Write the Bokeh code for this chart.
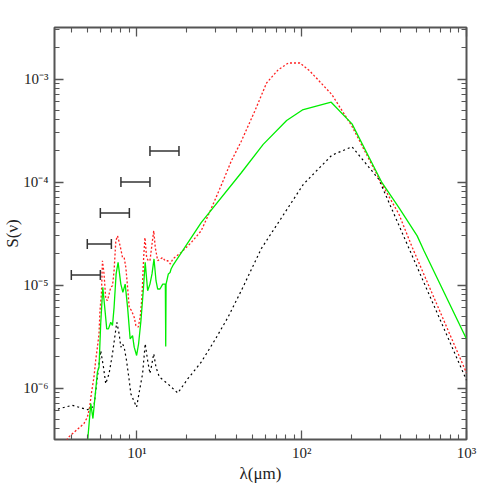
import math
from bokeh.plotting import figure
from bokeh.models import (Range1d, FixedTicker, LogAxis, CustomJSTickFormatter,
                          CustomLabelingPolicy)
from bokeh.embed import file_html
from bokeh.resources import INLINE

# ---- data ----
green_wl = [5.0, 5.25, 5.41, 5.57, 5.76, 5.89, 6.03, 6.21, 6.38, 6.56, 6.72, 6.94, 7.11, 7.27,
            7.48, 7.69, 7.99, 8.22, 8.49, 8.78, 9.10, 9.41, 9.63, 9.96, 10.24, 10.58, 10.93,
            11.23, 11.62, 12.0, 12.35, 12.70, 13.06, 13.37, 13.81, 14.35, 14.88, 14.96, 15.03,
            15.52, 15.89, 16.12, 16.51, 24.55, 43.0, 58.4, 81.0, 101, 151, 202, 307, 389,
            502, 552, 1000]
green_S = [2.8e-7, 7.05e-7, 5.05e-7, 8.2e-7, 1.43e-6, 1.59e-6, 4.2e-6, 9.5e-6, 6.07e-6, 3.75e-6,
           3.75e-6, 4.35e-6, 4.04e-6, 6.07e-6, 1.28e-5, 1.66e-5, 1.02e-5, 8.48e-6, 1.02e-5,
           6.07e-6, 3.0e-6, 3.23e-6, 2.49e-6, 2.07e-6, 2.69e-6, 4.51e-6, 8.81e-6, 1.66e-5,
           8.81e-6, 1.02e-5, 1.28e-5, 1.79e-5, 1.10e-5, 9.14e-6, 9.14e-6, 1.02e-5, 1.02e-5,
           2.53e-6, 1.02e-5, 1.28e-5, 1.32e-5, 1.43e-5, 1.54e-5, 4.03e-5, 1.23e-4, 2.32e-4,
           3.95e-4, 5.01e-4, 5.95e-4, 3.67e-4, 9.84e-5, 5.64e-5, 3.0e-5, 2.15e-5, 3.0e-6]

red_wl = [3.75, 3.86, 4.77, 5.01, 5.17, 5.29, 5.37, 5.49, 5.62, 5.76, 5.89, 5.97, 6.09, 6.18,
          6.32, 6.47, 6.63, 6.94, 7.11, 7.27, 7.45, 7.63, 7.91, 8.18, 8.37, 8.57, 8.78, 8.98,
          9.28, 9.63, 9.86, 10.18, 10.47, 10.73, 10.99, 11.19, 11.46, 11.72, 12.0, 12.35,
          12.65, 12.93, 13.37, 13.87, 14.35, 14.82, 15.39, 15.96, 16.51, 18.55, 21.35, 24.55,
          26.98, 29.6, 33.3, 37.4, 43.0, 51.9, 61.2, 72.1, 83.0, 97.6, 112.3, 152.4, 201.8,
          300, 389, 469, 1000]
red_S = [3.1e-7, 3.35e-7, 4.51e-7, 5.23e-7, 6.53e-7, 8.8e-7, 1.02e-6, 1.28e-6, 1.85e-6, 2.49e-6,
         3.36e-6, 5.64e-6, 8.18e-6, 1.72e-5, 1.28e-5, 7.33e-6, 7.05e-6, 9.5e-6, 9.85e-6,
         1.37e-5, 2.69e-5, 3.0e-5, 2.4e-5, 1.85e-5, 1.85e-5, 1.48e-5, 9.5e-6, 6.07e-6,
         5.64e-6, 4.86e-6, 4.04e-6, 3.89e-6, 4.86e-6, 7.59e-6, 1.85e-5, 2.89e-5, 1.85e-5,
         1.72e-5, 1.72e-5, 2.49e-5, 3.36e-5, 2.31e-5, 1.72e-5, 1.79e-5, 1.85e-5, 1.72e-5,
         1.72e-5, 1.6e-5, 1.79e-5, 2.07e-5, 2.58e-5, 3.36e-5, 4.69e-5, 6.55e-5, 1.02e-4,
         1.6e-4, 2.49e-4, 4.87e-4, 9.14e-4, 1.23e-3, 1.43e-3, 1.43e-3, 1.19e-3, 7.06e-4,
         3.48e-4, 1.02e-4, 4.87e-5, 2.31e-5, 1.4e-6]

black_wl = [3.1, 4.05, 5.01, 5.49, 5.76, 6.03, 6.27, 6.47, 6.78, 7.11, 7.55, 7.80, 7.99, 8.18,
            8.37, 8.65, 8.98, 9.19, 9.55, 9.96, 10.33, 10.83, 11.23, 11.62, 12.0, 12.29, 12.65,
            13.06, 13.68, 15.39, 17.71, 20.38, 24.55, 29.6, 35.7, 43.0, 57.0, 75.5, 102.4,
            152.4, 202, 294, 1000]
black_S = [6.07e-7, 6.8e-7, 6.16e-7, 6.63e-7, 1.28e-6, 2.31e-6, 1.59e-6, 1.10e-6, 1.38e-6,
           2.15e-6, 4.35e-6, 3.36e-6, 2.49e-6, 2.69e-6, 2.49e-6, 1.85e-6, 1.19e-6, 8.81e-7,
           7.59e-7, 6.53e-7, 9.12e-7, 1.38e-6, 2.69e-6, 1.85e-6, 1.38e-6, 1.66e-6, 2.15e-6,
           1.59e-6, 1.28e-6, 1.10e-6, 8.93e-7, 1.23e-6, 1.78e-6, 2.89e-6, 4.86e-6, 8.81e-6,
           2.27e-5, 4.51e-5, 9.51e-5, 1.82e-4, 2.2e-4, 1.06e-4, 1.19e-6]

# horizontal bars (band limits, flux)
bar_lo = [4.0, 5.0, 6.0, 8.0, 12.0]
bar_hi = [6.0, 7.0, 9.0, 12.0, 18.0]
bar_S = [1.25e-5, 2.5e-5, 5.0e-5, 1.0e-4, 2.0e-4]

x_ticks = [10, 100, 1000]
x_tick_labels = ["10¹", "10²", "10³"]
y_ticks = [1e-6, 1e-5, 1e-4, 1e-3]
y_tick_labels = ["10⁻⁶", "10⁻⁵", "10⁻⁴", "10⁻³"]
x_minor = [m * 10 ** e for e in range(0, 3) for m in range(2, 10)]
y_minor = [m * 10 ** e for e in range(-7, -2) for m in range(2, 10)]

FONT = "'Liberation Serif', 'Times New Roman', serif"
AX = "#555555"

p = figure(frame_width=412, frame_height=412, x_axis_type="log", y_axis_type="log",
           x_range=Range1d(10 ** 0.5, 1e3), y_range=Range1d(10 ** -6.5, 10 ** -2.5),
           output_backend="svg", toolbar_location=None,
           min_border_left=53, min_border_right=20, min_border_top=27, min_border_bottom=44)
p.grid.visible = False
p.outline_line_color = AX
p.outline_line_width = 2
p.background_fill_color = "white"
p.border_fill_color = "white"

code = """
const i = tvals.findIndex(t => Math.abs(Math.log10(t) - Math.log10(tick)) < 1e-6);
return i >= 0 ? tlabels[i] : "";
"""
xfmt = CustomJSTickFormatter(args=dict(tvals=x_ticks, tlabels=x_tick_labels), code=code)
yfmt = CustomJSTickFormatter(args=dict(tvals=y_ticks, tlabels=y_tick_labels), code=code)
blank = CustomJSTickFormatter(code="return '';")
hide_all = CustomLabelingPolicy(code="""
const idx = [...indices];
for (const i of idx) indices.unset(i);
return indices;
""")


def style(ax, ticks, minor, fmt, show_labels):
    ax.ticker = FixedTicker(ticks=ticks, minor_ticks=minor)
    ax.formatter = fmt if show_labels else blank
    ax.axis_line_color = None
    ax.major_tick_in = 9
    ax.major_tick_out = 0
    ax.minor_tick_in = 5
    ax.minor_tick_out = 0
    ax.major_tick_line_color = AX
    ax.minor_tick_line_color = AX
    ax.major_tick_line_width = 1.3
    ax.minor_tick_line_width = 1.1
    ax.major_label_text_font = FONT
    ax.major_label_text_color = "#222222"
    ax.major_label_text_font_size = "15px"
    ax.major_label_standoff = 5 if show_labels else 0
    if not show_labels:
        ax.major_label_policy = hide_all
    ax.axis_label_text_font = FONT
    ax.axis_label_text_font_style = "normal"
    ax.axis_label_text_font_size = "17px"
    ax.axis_label_text_color = "#222222"


style(p.xaxis[0], x_ticks, x_minor, xfmt, True)
style(p.yaxis[0], y_ticks, y_minor, yfmt, True)
p.yaxis[0].major_label_standoff = 6
p.xaxis[0].axis_label = "λ(μm)"
p.yaxis[0].axis_label = "S(ν)"
p.xaxis[0].axis_label_standoff = 0
p.yaxis[0].axis_label_standoff = -2

top = LogAxis()
style(top, x_ticks, x_minor, xfmt, False)
p.add_layout(top, "above")
right = LogAxis()
style(right, y_ticks, y_minor, yfmt, False)
p.add_layout(right, "right")

p.line(black_wl, black_S, line_color="black", line_width=1.2, line_dash="2 3")
p.line(red_wl, red_S, line_color="#ff2020", line_width=1.3, line_dash="2 2")
p.line(green_wl, green_S, line_color="#00ee00", line_width=1.3)

p.segment(x0=bar_lo, y0=bar_S, x1=bar_hi, y1=bar_S, line_color="#333333", line_width=1.5)
p.scatter(x=bar_lo + bar_hi, y=bar_S + bar_S, marker="dash", angle=math.pi / 2, size=10,
          line_color="#333333", line_width=1.5)

open("out.html", "w").write(file_html(p, INLINE))
